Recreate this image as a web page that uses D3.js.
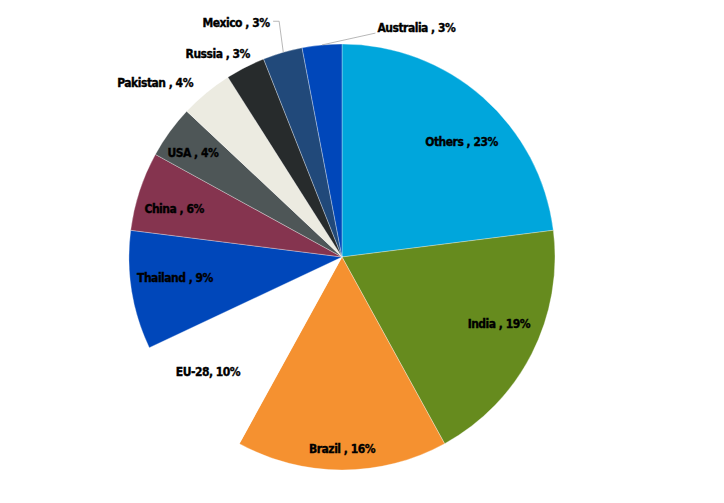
<!DOCTYPE html>
<html>
<head>
<meta charset="utf-8">
<script src="https://cdn.jsdelivr.net/npm/d3@7"></script>
<style>
  body { margin: 0; background: #fff; }
  .lbl { font-family: "DejaVu Sans Condensed", "DejaVu Sans", sans-serif; font-weight: bold; font-size: 12px; fill: #000; stroke: #000; stroke-width: 0.35px; letter-spacing: -0.5px; }
</style>
</head>
<body>
<div id="chart"></div>
<script>
// share of the total, clockwise from 12 o'clock
let countries = ["Others", "India", "Brazil", "EU-28", "Thailand", "China", "USA", "Pakistan", "Russia", "Mexico", "Australia"];
let shares = [23, 19, 16, 10, 9, 6, 4, 4, 3, 3, 3];
let labels = ["Others , 23%", "India , 19%", "Brazil , 16%", "EU-28, 10%", "Thailand , 9%", "China , 6%", "USA , 4%", "Pakistan , 4%", "Russia , 3%", "Mexico , 3%", "Australia , 3%"];
let colors = ["#00a6dc", "#668b1e", "#f59130", "#ffffff", "#0047ba", "#85344f", "#4e5657", "#ecebe1", "#272b2c", "#21497a", "#0047ba"];

let width = 724, height = 503;
let cx = 342, cy = 257, radius = 213;

let svg = d3.select("#chart").append("svg")
    .attr("width", width)
    .attr("height", height)
    .append("g")
    .attr("transform", "translate(" + cx + "," + cy + ")");

let data = countries.map(function(c, i) {
    return {name: c, value: shares[i], label: labels[i], color: colors[i]};
});

let pie = d3.pie().sort(null).value(function(d) { return d.value; });
let arc = d3.arc().innerRadius(0).outerRadius(radius);
let arcs = pie(data);

svg.selectAll(".slice")
    .data(arcs)
    .enter().append("path")
    .attr("class", "slice")
    .attr("d", arc)
    .attr("fill", function(d) { return d.data.color; })
    .attr("stroke", function(d) { return d.data.name == "EU-28" ? "none" : "rgba(255,255,255,0.45)"; })
    .attr("stroke-width", 0.7);

// label placement: radius as fraction of r, optional angle override (degrees)
let placement = {
    "Others": {r: 0.78, a: 46},
    "India": {r: 0.80, a: 113},
    "Brazil": {r: 0.90, a: 180},
    "EU-28": {r: 0.83, a: 229.3},
    "Thailand": {r: 0.79, a: 263},
    "China": {r: 0.82, a: 286},
    "USA": {r: 0.855, a: 305},
    "Pakistan": {r: 1.20, a: 313},
    "Russia": {r: 1.12, a: 328.6},
    "Mexico": {r: 1.205, a: 335.6},
    "Australia": {r: 1.13, a: 18}
};
// leader lines end on the rim at this angle
let leaders = {
    "Mexico": 344,
    "Australia": 354.6
};

function polar(angDeg, r) {
    let a = angDeg * Math.PI / 180;
    return [r * Math.sin(a), -r * Math.cos(a)];
}

arcs.forEach(function(d) {
    let p = placement[d.data.name];
    let mid = (d.startAngle + d.endAngle) / 2 * 180 / Math.PI;
    let ang = p.a !== undefined ? p.a : mid;
    let pos = polar(ang, p.r * radius);

    let t = svg.append("text")
        .attr("class", "lbl")
        .attr("x", pos[0])
        .attr("y", pos[1])
        .attr("dy", "0.35em")
        .attr("text-anchor", "middle")
        .text(d.data.label);

    if (leaders[d.data.name] !== undefined) {
        let bb = t.node().getBBox();
        let rim = polar(leaders[d.data.name], radius);
        let pts;
        if (d.data.name == "Mexico") {
            let sx = bb.x + bb.width + 3, sy = pos[1] - 2;
            pts = [[sx, sy], [sx + 6, sy], [rim[0], rim[1]]];
        } else {
            let sx = bb.x - 2, sy = pos[1] + 5;
            pts = [[sx, sy], [rim[0], rim[1]]];
        }
        svg.append("path")
            .attr("d", d3.line()(pts))
            .attr("fill", "none")
            .attr("stroke", "#a6a6a6")
            .attr("stroke-width", 0.8);
    }
});
</script>
</body>
</html>
